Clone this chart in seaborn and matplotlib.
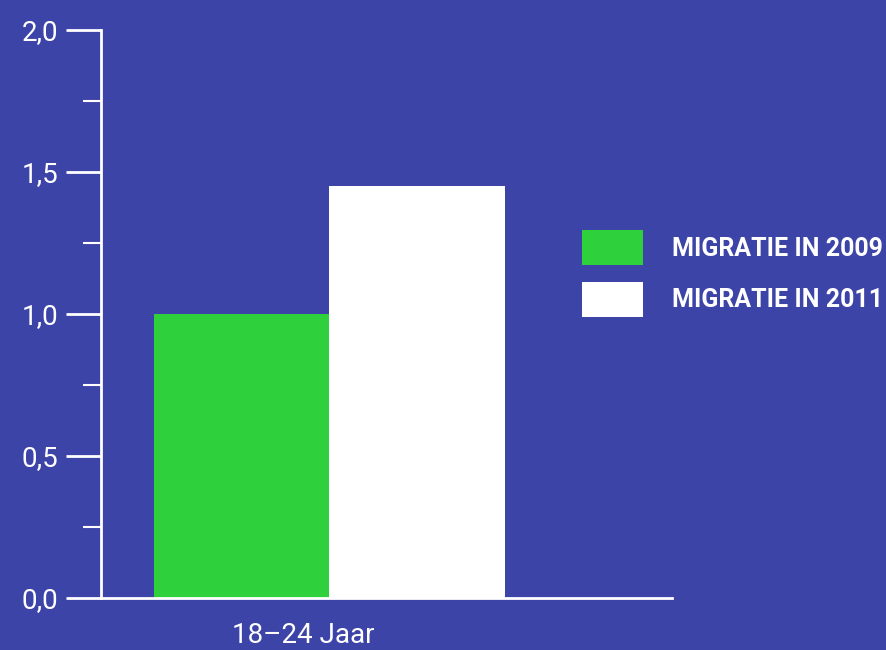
import matplotlib.pyplot as plt
from matplotlib.ticker import MultipleLocator, FuncFormatter
from matplotlib.transforms import ScaledTranslation
import pandas as pd
import seaborn as sns

# data
leeftijd = ['18–24 Jaar']
reeksen = ['MIGRATIE IN 2009', 'MIGRATIE IN 2011']
waarden_2009 = [1.0]
waarden_2011 = [1.45]

bg = '#3D44A8'
kleuren = ['#2ED13C', '#FFFFFF']

df = pd.DataFrame({
    'leeftijd': leeftijd * 2,
    'reeks': [reeksen[0]] * len(leeftijd) + [reeksen[1]] * len(leeftijd),
    'waarde': waarden_2009 + waarden_2011,
})

sns.set_style('ticks')
plt.rcParams['font.family'] = ['Roboto', 'DejaVu Sans']

fig = plt.figure(figsize=(8.87, 6.5), dpi=100, facecolor=bg)
ax = fig.add_axes([101 / 887, 1 - 598 / 650, (672 - 101) / 887, (598 - 30) / 650])
ax.set_facecolor(bg)

sns.barplot(data=df, x='leeftijd', y='waarde', hue='reeks', palette=kleuren,
            saturation=1, width=0.8, linewidth=0, ax=ax, legend=True)

ax.set_xlim(-0.52, 0.78)
ax.set_ylim(0, 2.0)
ax.yaxis.set_major_locator(MultipleLocator(0.5))
ax.yaxis.set_minor_locator(MultipleLocator(0.25))
ax.yaxis.set_major_formatter(FuncFormatter(lambda v, p: f'{v:.1f}'.replace('.', ',')))

for s in ['top', 'right']:
    ax.spines[s].set_visible(False)
for s in ['left', 'bottom']:
    ax.spines[s].set_color('white')
    ax.spines[s].set_linewidth(2)

ax.tick_params(axis='y', which='major', length=25, width=2, color='white',
               labelcolor='white', labelsize=20, pad=6)
ax.tick_params(axis='y', which='minor', length=13, width=1.5, color='white')
ax.tick_params(axis='x', length=0, labelcolor='white', labelsize=20, pad=17)
ax.set_xlabel('')
ax.set_ylabel('')
for lab in ax.get_xticklabels():
    lab.set_transform(lab.get_transform() + ScaledTranslation(-0.26, 0, fig.dpi_scale_trans))

handles, labels = ax.get_legend_handles_labels()
ax.get_legend().remove()
leg = fig.legend(handles, labels, loc='upper left', bbox_to_anchor=(582 / 887, 1 - 230 / 650),
                 frameon=False, borderpad=0, borderaxespad=0, handlelength=2.44,
                 handleheight=1.78, handletextpad=1.16, labelspacing=0.66,
                 prop={'size': 18, 'weight': 'bold'})
for t in leg.get_texts():
    t.set_color('white')
for h in leg.legend_handles:
    h.set_linewidth(0)

plt.savefig('out.png', dpi=100, facecolor=bg)
